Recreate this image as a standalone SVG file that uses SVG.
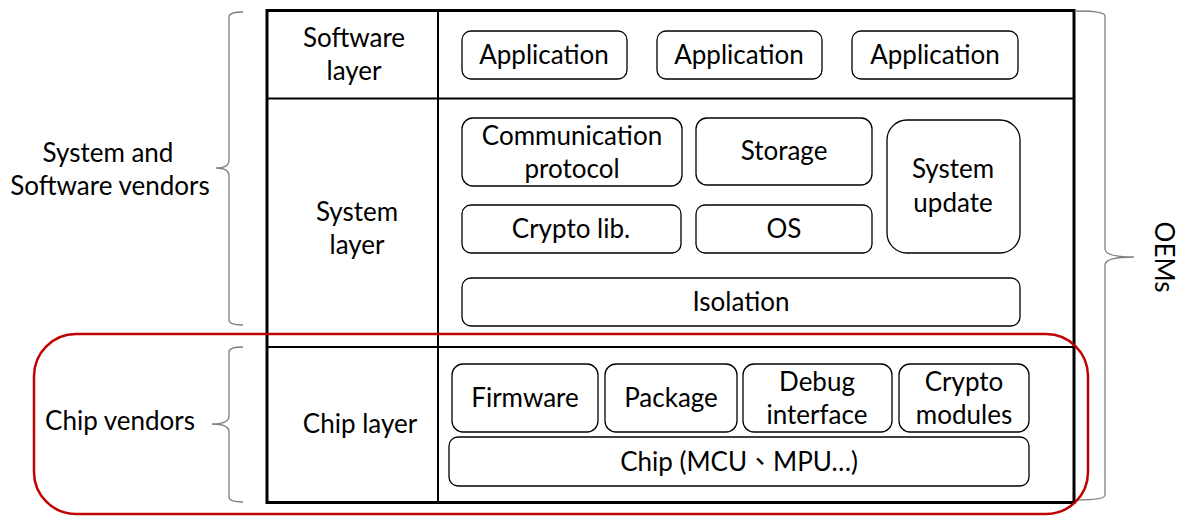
<svg xmlns="http://www.w3.org/2000/svg" width="1194" height="516" viewBox="0 0 1194 516">
<style>
text{font-family:Lato,"Open Sans","Liberation Sans",sans-serif;font-size:26px;fill:#000;text-anchor:middle}
.box{fill:#fff;stroke:#000;stroke-width:1.3}
.brace{fill:none;stroke:#7f7f7f;stroke-width:1.3}
</style>
<rect x="0" y="0" width="1194" height="516" fill="#fff"/>
<g id="frame">
<rect x="267" y="10.5" width="807" height="492" fill="none" stroke="#000" stroke-width="3"/>
<line x1="438" y1="10" x2="438" y2="503" stroke="#000" stroke-width="2"/>
<line x1="267" y1="98.5" x2="1074" y2="98.5" stroke="#000" stroke-width="2"/>
<line x1="267" y1="347" x2="1074" y2="347" stroke="#000" stroke-width="2"/>
</g>
<g id="software-layer">
<text x="354" y="47">Software</text>
<text x="354" y="80">layer</text>
</g>
<g id="system-layer">
<text x="357" y="221">System</text>
<text x="357" y="254">layer</text>
</g>
<g id="chip-layer">
<text x="360" y="433">Chip layer</text>
</g>
<g id="app1"><rect class="box" x="462" y="31" width="165" height="48" rx="9"/><text x="544" y="64">Application</text></g>
<g id="app2"><rect class="box" x="657" y="31" width="165" height="48" rx="9"/><text x="739" y="64">Application</text></g>
<g id="app3"><rect class="box" x="852" y="31" width="166" height="48" rx="9"/><text x="935" y="64">Application</text></g>
<g id="comm"><rect class="box" x="462" y="118" width="220" height="68" rx="11"/><text x="572" y="145">Communication</text><text x="572" y="178">protocol</text></g>
<g id="storage"><rect class="box" x="696" y="118" width="176" height="67" rx="11"/><text x="784" y="160">Storage</text></g>
<g id="sysupdate"><rect class="box" x="887" y="120" width="133" height="133" rx="20"/><text x="953" y="178">System</text><text x="953" y="212">update</text></g>
<g id="cryptolib"><rect class="box" x="462" y="205" width="219" height="48" rx="9"/><text x="571" y="238">Crypto lib.</text></g>
<g id="os"><rect class="box" x="696" y="205" width="176" height="48" rx="9"/><text x="784" y="238">OS</text></g>
<g id="isolation"><rect class="box" x="462" y="278" width="558" height="48" rx="9"/><text x="741" y="311">Isolation</text></g>
<g id="firmware"><rect class="box" x="452" y="364" width="146" height="68" rx="11"/><text x="525" y="407">Firmware</text></g>
<g id="package"><rect class="box" x="605" y="364" width="132" height="68" rx="11"/><text x="671" y="407">Package</text></g>
<g id="debug"><rect class="box" x="743" y="364" width="149" height="68" rx="11"/><text x="817" y="391">Debug</text><text x="817" y="424">interface</text></g>
<g id="cryptomod"><rect class="box" x="899" y="364" width="130" height="68" rx="11"/><text x="964" y="391">Crypto</text><text x="964" y="424">modules</text></g>
<g id="chip"><rect class="box" x="449" y="437" width="580" height="49" rx="9"/><text x="739" y="471">Chip (MCU<tspan font-family="'Noto Sans CJK TC',sans-serif">、</tspan>MPU…)</text></g>
<g id="connectors">
<path class="brace" d="M243,12 Q229,12 229,17 L229,160 Q229,168 216,168 Q229,168 229,176 L229,320 Q229,325 243,325"/>
<path class="brace" d="M243,347 Q229,347 229,352 L229,416 Q229,424 212,424 Q229,424 229,432 L229,497 Q229,502 243,502"/>
<path class="brace" d="M1076,11 Q1105,11 1105,16 L1105,249 Q1105,257 1134,257 Q1105,257 1105,265 L1105,495 Q1105,500 1076,500"/>
</g>
<g id="oem-label"><text transform="translate(1163,257) rotate(90)" y="8">OEMs</text></g>
<g id="vendor-labels">
<text x="108" y="162">System and</text>
<text x="110" y="195">Software vendors</text>
<text x="120" y="430">Chip vendors</text>
</g>
<g id="chip-highlight"><rect x="34" y="334" width="1054" height="180" rx="42" fill="none" stroke="#c00000" stroke-width="2.5"/></g>
</svg>
